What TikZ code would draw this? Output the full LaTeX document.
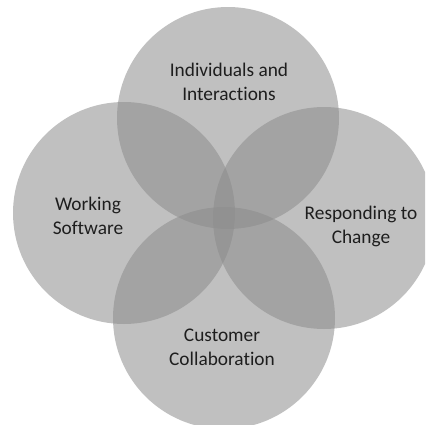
\documentclass[tikz,border=0pt]{standalone}
\usepackage{fontspec}
\setmainfont[Ligatures={NoCommon}]{Carlito}
\usepackage{tikz}
\usetikzlibrary{positioning}

\definecolor{petalgray}{RGB}{140,140,140}
\definecolor{valuetext}{RGB}{30,30,30}

\tikzset{
  petal/.style={circle,fill=petalgray,fill opacity=0.55,draw=none,minimum size=166.5pt,inner sep=0pt},
  valuelabel/.style={align=center,inner sep=0.75pt,text=valuetext,font=\fontsize{14.5}{18}\selectfont}
}

\begin{document}
\begin{tikzpicture}[x=0.75pt,y=0.75pt,yscale=-1,xscale=1]
\useasboundingbox (0,0) rectangle (425,425);
\clip (0,0) rectangle (425,425);

%Shape: Circle [id:individuals]
\node [petal] (indiv) at (228,118) {};
%Shape: Circle [id:working]
\node [petal] (work) at (124,213) {};
%Shape: Circle [id:responding]
\node [petal] (resp) at (324,218) {};
%Shape: Circle [id:customer]
\node [petal] (cust) at (224,318) {};

% Text Node
\node [valuelabel] (indivtxt) at (229,82) {Individuals and\\Interactions};
% Text Node
\node [valuelabel] (worktxt) at (88,216) {Working\\Software};
% Text Node
\node [valuelabel] (resptxt) at (361,226) {Responding to\\Change};
% Text Node
\node [valuelabel] (custtxt) at (222,347) {Customer\\Collaboration};

\end{tikzpicture}
\end{document}
